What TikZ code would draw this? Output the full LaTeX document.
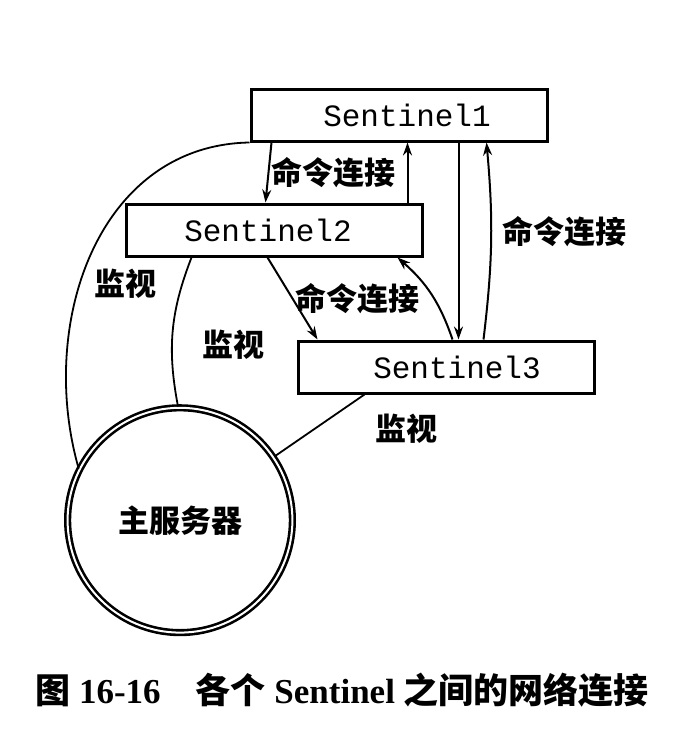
\documentclass[tikz,border=0pt]{standalone}
\usepackage{fontspec}
\setmainfont{Liberation Serif}
\setmonofont{Liberation Mono}
\newfontfamily\cjk{Noto Sans CJK SC}
\usetikzlibrary{arrows.meta,positioning}

\tikzset{
  sentbox/.style={draw, line width=3pt, minimum width=296pt, minimum height=52pt,
    font=\ttfamily\fontsize{31pt}{36pt}\selectfont},
  server/.style={circle, draw, double, line width=2.6pt, double distance=2pt,
    minimum size=224.8pt, font=\cjk\bfseries\fontsize{31pt}{36pt}\selectfont},
  cmdlabel/.style={font=\cjk\bfseries\fontsize{31pt}{36pt}\selectfont, inner sep=2pt},
  monlabel/.style={font=\cjk\bfseries\fontsize{31pt}{36pt}\selectfont, inner sep=2pt},
  link/.style={line width=2pt, -{Stealth[length=13pt,width=9pt]}},
  watch/.style={line width=1.8pt},
}

\begin{document}
\begin{tikzpicture}[x=1pt, y=1pt]
  \useasboundingbox (0,0) rectangle (700,-740);

  % Sentinel
  \node[sentbox] (s1) at (399,-115) {\hspace*{16pt}Sentinel1};
  \node[sentbox] (s2) [below=60pt of s1, xshift=-125pt] {Sentinel2\hspace*{12pt}};
  \node[sentbox] (s3) [below=82pt of s2, xshift=172pt] {\hspace*{22pt}Sentinel3};

  % 主服务器
  \node[server] (srv) [below=149pt of s2, xshift=-94pt] {主服务器};

  % 命令连接
  \draw[link] ([xshift=22pt]s1.south west) -- node[cmdlabel, right] {命令连接} ([xshift=141pt]s2.north west);
  \draw[link] ([xshift=283pt]s2.north west) -- ([xshift=283pt]s2.north west |- s1.south);
  \draw[link] ([xshift=209pt]s1.south west) -- ([xshift=209pt]s1.south west |- s3.north);
  \draw[link] ([xshift=187pt]s3.north west) to[bend right=6] node[cmdlabel, pos=.55, right=8pt] {命令连接} ([xshift=237pt]s1.south west);
  \draw[link] ([xshift=143pt]s2.south west) -- node[cmdlabel, right] {命令连接} ([xshift=21pt]s3.north west);
  \draw[link] ([xshift=156pt]s3.north west) to[bend right=15] ([xshift=273pt]s2.south west);

  % 监视
  \draw[watch] (s1.south west) to[out=181, in=106, looseness=1.05] node[monlabel, pos=.58, right=12pt] {监视} (srv.153);
  \draw[watch] ([xshift=67pt]s2.south west) to[bend right=16] node[monlabel, pos=.6, right=28pt] {监视} (srv.91);
  \draw[watch] ([xshift=68pt]s3.south west) -- node[monlabel, pos=0, below right=17pt and 8pt] {监视} (srv.34);

  % 图题
  \node[font=\bfseries\fontsize{35pt}{40pt}\selectfont] (cap) at (342,-690)
    {{\cjk 图} 16-16\hspace{1em}{\cjk 各个} Sentinel {\cjk 之间的网络连接}};
\end{tikzpicture}
\end{document}
